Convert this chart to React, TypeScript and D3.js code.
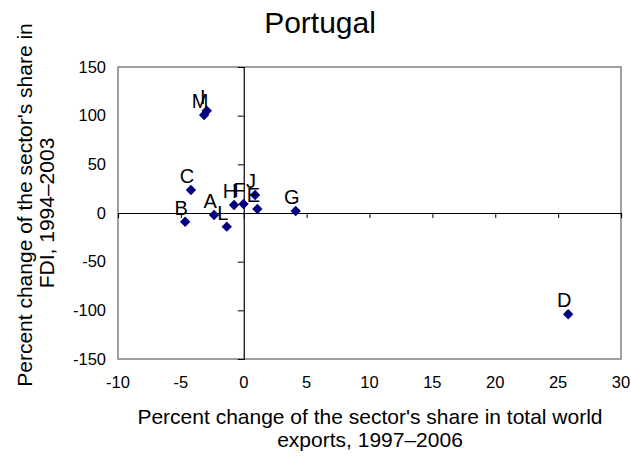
import React, { useEffect, useRef } from "react";
import * as d3 from "d3";

// sector letters with export-share change (x) and FDI-share change (y)
const sectors = ["A", "B", "C", "D", "E", "F", "G", "H", "I", "J", "L", "M"];
const exportChange = [-2.36, -4.66, -4.2, 25.8, 1.08, -0.02, 4.13, -0.77, -2.94, 0.9, -1.35, -3.15];
const fdiChange = [-2, -9, 23.6, -104, 4.1, 9.2, 2, 8.2, 105, 18.5, -14, 100.7];

const xTicks = [-10, -5, 0, 5, 10, 15, 20, 25, 30];
const yTicks = [-150, -100, -50, 0, 50, 100, 150];

const width = 631;
const height = 458;
const font = "Arial, 'Liberation Sans', sans-serif";

const App = () => {
  const svgRef = useRef<SVGSVGElement>(null);

  useEffect(() => {
    if (!svgRef.current) return;
    const svg = d3.select(svgRef.current);
    svg.selectAll("*").remove();

    const left = 118, right = 621, top = 67, bottom = 359;
    const x = d3.scaleLinear().domain([-10, 30]).range([left, right]);
    const y = d3.scaleLinear().domain([-150, 150]).range([bottom, top]);

    svg.append("rect")
      .attr("x", left).attr("y", top)
      .attr("width", right - left).attr("height", bottom - top)
      .attr("fill", "white").attr("stroke", "#808080").attr("stroke-width", 1.5);

    // axes crossing at zero
    const xAxis = d3.axisBottom(x).tickValues(xTicks).tickSize(5).tickFormat(() => "");
    const gx = svg.append("g").attr("transform", `translate(0,${y(0)})`).call(xAxis);
    const yAxis = d3.axisLeft(y).tickValues(yTicks).tickSize(6).tickFormat(() => "");
    const gy = svg.append("g").attr("transform", `translate(${x(0)},0)`).call(yAxis);
    [gx, gy].forEach((g) => {
      g.select(".domain").attr("stroke", "black").attr("stroke-width", 1.2);
      g.selectAll(".tick line").attr("stroke", "black");
    });
    gx.selectAll(".tick").filter((d) => d === -10 || d === 30).remove();
    gy.selectAll(".tick").filter((d) => d === -150 || d === 150).remove();

    // tick labels on the outside of the box
    svg.append("g").selectAll("text").data(xTicks).enter().append("text")
      .attr("x", (d) => x(d)).attr("y", 388)
      .attr("text-anchor", "middle")
      .style("font-family", font).style("font-size", "16.5px")
      .text((d) => d);
    svg.append("g").selectAll("text").data(yTicks).enter().append("text")
      .attr("x", 106).attr("y", (d) => y(d)).attr("dy", "0.35em")
      .attr("text-anchor", "end")
      .style("font-family", font).style("font-size", "16.5px")
      .text((d) => d);

    const pts = sectors.map((s, i) => ({ s, px: exportChange[i], py: fdiChange[i] }));

    svg.append("g").selectAll("path").data(pts).enter().append("path")
      .attr("d", d3.symbol().type(d3.symbolSquare).size(54))
      .attr("transform", (d) => `translate(${x(d.px)},${y(d.py)}) rotate(45)`)
      .attr("fill", "#000080");

    svg.append("g").selectAll("text").data(pts).enter().append("text")
      .attr("x", (d) => x(d.px) - 4).attr("y", (d) => y(d.py) - 14)
      .attr("dy", "0.35em")
      .attr("text-anchor", "middle")
      .style("font-family", font).style("font-size", "20px")
      .text((d) => d.s);

    svg.append("text")
      .attr("x", 320).attr("y", 33)
      .attr("text-anchor", "middle")
      .style("font-family", font).style("font-size", "30px")
      .text("Portugal");

    const xt = svg.append("text")
      .attr("text-anchor", "middle")
      .style("font-family", font).style("font-size", "21px");
    xt.append("tspan").attr("x", 370).attr("y", 424).text("Percent change of the sector's share in total world");
    xt.append("tspan").attr("x", 370).attr("y", 447).text("exports, 1997\u20132006");

    const yt = svg.append("text")
      .attr("transform", `translate(0,${(top + bottom) / 2}) rotate(-90)`)
      .attr("text-anchor", "middle")
      .style("font-family", font).style("font-size", "21px");
    yt.append("tspan").attr("x", 8).attr("y", 32).text("Percent change of the sector's share in");
    yt.append("tspan").attr("x", 0).attr("y", 54).text("FDI, 1994\u20132003");
  }, []);

  return <svg ref={svgRef} width={width} height={height} style={{ position: "absolute", left: 0, top: 0, background: "white" }} />;
};

export default App;
